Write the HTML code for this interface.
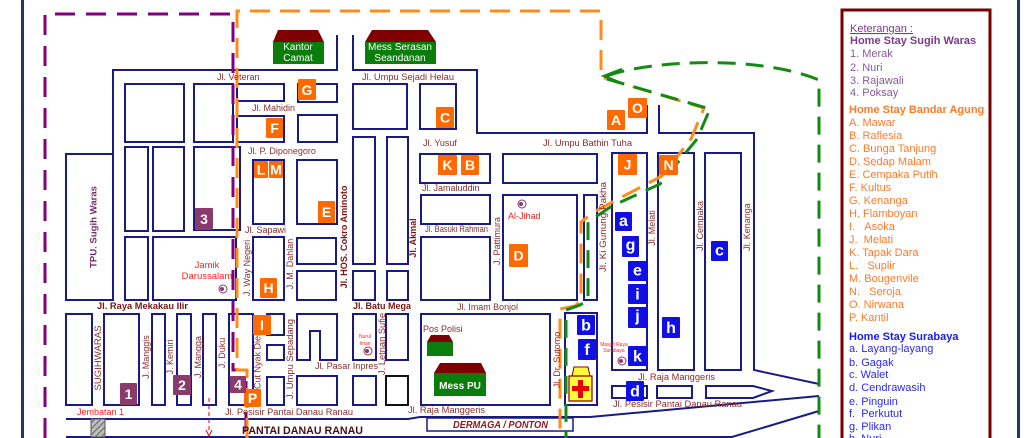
<!DOCTYPE html>
<html><head><meta charset="utf-8"><style>
html,body{margin:0;padding:0;background:#fff;}
svg{display:block;}
text{font-family:"Liberation Sans",Arial,sans-serif;}
.s{fill:none;stroke:#1a1a84;stroke-width:2;}
.l{fill:#8b2d2d;font-size:9px;}
.lv{fill:#8b2d2d;font-size:9px;text-anchor:middle;}
.lb{fill:#7a1414;font-size:9px;font-weight:bold;}
.ob{fill:#ff6a00;}
.pb{fill:#8b3b6b;}
.bb{fill:#1010e6;}
.bx{fill:#fff;font-weight:bold;font-size:14px;text-anchor:middle;}
.bl{fill:#fff;font-weight:bold;font-size:16px;text-anchor:middle;}
.red{fill:#ff2020;}
.lgp{fill:#8a5a9a;font-size:11px;}
.lgo{fill:#ff7a2a;font-size:11px;}
.lgb{fill:#2a2aee;font-size:11px;}
</style></head><body>
<svg width="1030" height="438" viewBox="0 0 1030 438" xmlns="http://www.w3.org/2000/svg">
<rect width="1030" height="438" fill="#fff"/>
<!-- frame lines -->
<rect x="21" y="0" width="3" height="438" fill="#1f3864"/>
<rect x="1017" y="0" width="3" height="438" fill="#1f3864"/>

<!-- blocks -->
<rect class="s" x="125" y="84" width="59" height="58"/>
<rect class="s" x="194" y="84" width="39" height="58"/>
<rect class="s" x="237" y="84" width="47" height="17"/>
<rect class="s" x="237" y="116" width="47" height="26"/>
<rect class="s" x="298" y="84" width="39" height="18"/>
<rect class="s" x="298" y="115" width="39" height="27"/>
<rect class="s" x="353" y="84" width="54" height="45"/>
<rect class="s" x="420" y="84" width="36" height="45"/>
<rect class="s" x="125" y="147" width="23" height="84"/>
<rect class="s" x="153" y="147" width="31" height="84"/>
<rect class="s" x="194" y="147" width="46" height="83"/>
<rect class="s" x="253" y="160" width="31" height="64"/>
<rect class="s" x="297" y="160" width="40" height="64"/>
<rect class="s" x="353" y="137" width="22" height="127"/>
<rect class="s" x="387" y="137" width="21" height="127"/>
<rect class="s" x="420" y="154" width="70" height="29"/>
<rect class="s" x="503" y="154" width="94" height="29"/>
<rect class="s" x="421" y="195" width="69" height="29"/>
<rect class="s" x="421" y="237" width="69" height="63"/>
<rect class="s" x="503" y="195" width="74" height="105"/>
<rect class="s" x="584" y="195" width="13" height="105"/>
<rect class="s" x="612" y="153" width="35" height="217"/>
<rect class="s" x="658" y="153" width="36" height="217"/>
<rect class="s" x="705" y="153" width="36" height="217"/>
<rect class="s" x="125" y="237" width="23" height="63"/>
<rect class="s" x="153" y="237" width="83" height="63"/>
<rect class="s" x="253" y="237" width="31" height="63"/>
<rect class="s" x="297" y="238" width="39" height="26"/>
<rect class="s" x="297" y="271" width="39" height="29"/>
<rect class="s" x="353" y="271" width="22" height="29"/>
<rect class="s" x="387" y="271" width="21" height="29"/>
<rect class="s" x="66" y="314" width="26" height="91"/>
<rect class="s" x="104" y="314" width="35" height="91"/>
<rect class="s" x="152" y="314" width="13" height="91"/>
<rect class="s" x="177" y="314" width="14" height="91"/>
<rect class="s" x="203" y="314" width="13" height="91"/>
<rect class="s" x="229" y="314" width="24" height="91"/>
<rect class="s" x="267" y="314" width="17" height="21"/>
<rect class="s" x="267" y="345" width="17" height="15"/>
<rect class="s" x="267" y="377" width="17" height="28"/>
<path class="s" d="M297,360V314H337V360H320V331H310V360Z"/>
<rect class="s" x="353" y="314" width="23" height="46"/>
<rect class="s" x="386" y="314" width="22" height="46"/>
<rect class="s" x="297" y="376" width="40" height="29"/>
<rect class="s" x="353" y="376" width="23" height="29"/>
<rect x="386" y="376" width="22" height="29" fill="none" stroke="#111" stroke-width="2"/>
<rect class="s" x="421" y="314" width="129" height="91"/>
<rect class="s" x="565" y="313" width="32" height="92"/>
<rect class="s" x="612" y="386" width="35" height="12"/>
<rect class="s" x="657" y="386" width="35" height="12"/>
<path class="s" d="M706,386H753L772,391L753,398H706Z"/>

<!-- outer roads -->
<path class="s" d="M337,35V70H113V300H66V154H113"/>
<path class="s" d="M353,35V70H477V133H647V105M659,105V133H754V370L819,384"/>
<path class="s" d="M66,419H408L420,417H590L819,396"/>
<path class="s" d="M66,437H732L819,411"/>
<rect x="427" y="418" width="146" height="13" fill="none" stroke="#1a1a84" stroke-width="1.5"/>

<!-- bridge -->
<rect x="91" y="419" width="14" height="18" fill="#bdbdbd" stroke="#555" stroke-width="1"/>
<path d="M91,423L95,419M91,429L101,419M91,435L105,421M95,437L105,427M101,437L105,433" stroke="#666" stroke-width="1"/>

<!-- buildings -->
<polygon points="273,42 278,30 318,30 324,42" fill="#7f0000"/>
<rect x="273" y="42" width="51" height="22" fill="#0b7d0b"/>
<text x="298" y="50" fill="#fff" font-size="10" text-anchor="middle">Kantor</text>
<text x="298" y="61" fill="#fff" font-size="10" text-anchor="middle">Camat</text>
<polygon points="365,42 372,30 428,30 436,42" fill="#7f0000"/>
<rect x="365" y="42" width="71" height="22" fill="#0b7d0b"/>
<text x="400" y="50" fill="#fff" font-size="10" text-anchor="middle">Mess Serasan</text>
<text x="400" y="61" fill="#fff" font-size="10" text-anchor="middle">Seandanan</text>
<polygon points="427,342 431,335 449,335 453,342" fill="#7f0000"/>
<rect x="427" y="342" width="26" height="14" fill="#0b7d0b"/>
<polygon points="434,373 440,363 481,363 486,373" fill="#7f0000"/>
<rect x="434" y="373" width="52" height="23" fill="#0b7d0b"/>
<text x="460" y="389" fill="#fff" font-size="10" font-weight="bold" text-anchor="middle">Mess PU</text>

<!-- hospital -->
<polygon points="572,376 574,367 588,367 590,376" fill="#ffff33" stroke="#800000" stroke-width="1"/>
<rect x="569" y="376" width="23" height="25" fill="#ffff33" stroke="#800000" stroke-width="1.2"/>
<rect x="578" y="380" width="5" height="18" fill="#ee0000"/>
<rect x="572" y="386" width="17" height="5" fill="#ee0000"/>

<!-- mosque icons -->
<g fill="none" stroke="#8b3a6b" stroke-width="1">
<circle cx="223" cy="289" r="4"/><circle cx="522" cy="204" r="4"/><circle cx="368" cy="351" r="4"/><circle cx="622" cy="361" r="4"/>
</g>
<g fill="#8b3a6b">
<circle cx="222" cy="289" r="2"/><circle cx="521" cy="204" r="2"/><circle cx="367" cy="351" r="2"/><circle cx="621" cy="361" r="2"/>
</g>

<!-- dashed boundaries -->
<path d="M45,438V14H233V370H246V438" fill="none" stroke="#800080" stroke-width="3" stroke-dasharray="20,11"/>
<path d="M247,438V370H237V11H601V77L704,108L691,139L662,176L620,198L594,212L581,222V300L575,306L560,309V438" fill="none" stroke="#ff8c1a" stroke-width="3" stroke-dasharray="20,10"/>
<path d="M607,79L710,109L697,139L660,184L612,206L588,222V300L580,305L566,310V438" fill="none" stroke="#138a13" stroke-width="3" stroke-dasharray="18,10"/>
<path d="M607,76C650,60 760,55 819,80V438" fill="none" stroke="#138a13" stroke-width="3" stroke-dasharray="18,10"/>
<path d="M622,69L604,76L621,83" fill="none" stroke="#138a13" stroke-width="2.5"/>

<!-- red arrow -->
<line x1="209" y1="398" x2="209" y2="433" stroke="#e00" stroke-width="1" stroke-dasharray="4,3"/>
<path d="M206,430L209,436L212,430" fill="none" stroke="#e00" stroke-width="1"/>

<!-- horizontal labels -->
<text class="l" x="217" y="80">Jl. Veteran</text>
<text class="l" x="252" y="111" font-size="8">Jl. Mahidin</text>
<text class="l" x="248" y="154" font-size="8">Jl. P. Diponegoro</text>
<text class="l" x="362" y="80" textLength="92" lengthAdjust="spacingAndGlyphs">Jl. Umpu Sejadi Helau</text>
<text class="l" x="423" y="146">Jl. Yusuf</text>
<text class="l" x="543" y="146" textLength="89" lengthAdjust="spacingAndGlyphs">Jl. Umpu Bathin Tuha</text>
<text class="l" x="422" y="191">Jl. Jamaluddin</text>
<text class="l" x="425" y="232" font-size="8" textLength="63" lengthAdjust="spacingAndGlyphs">Jl. Basuki Rahman</text>
<text class="l" x="245" y="233">Jl. Sapawi</text>
<text class="lb" x="97" y="309" textLength="91" lengthAdjust="spacingAndGlyphs">Jl. Raya Mekakau Ilir</text>
<text class="lb" x="353" y="309" textLength="58" lengthAdjust="spacingAndGlyphs">Jl. Batu Mega</text>
<text class="l" x="457" y="310" textLength="61" lengthAdjust="spacingAndGlyphs">Jl. Imam Bonjol</text>
<text class="l" x="315" y="369" textLength="63" lengthAdjust="spacingAndGlyphs">Jl. Pasar Inpres</text>
<text class="l" x="225" y="415" textLength="128" lengthAdjust="spacingAndGlyphs">Jl. Pesisir Pantai Danau Ranau</text>
<text class="l" x="408" y="413" textLength="77" lengthAdjust="spacingAndGlyphs">Jl. Raja Manggeris</text>
<text class="l" x="638" y="380" textLength="77" lengthAdjust="spacingAndGlyphs">Jl. Raja Manggeris</text>
<text class="l" x="613" y="407" textLength="129" lengthAdjust="spacingAndGlyphs">Jl. Pesisir Pantai Danau Ranau</text>
<text x="77" y="415" font-size="9" fill="#ff2020">Jembatan 1</text>
<text x="242" y="434" font-size="11" font-weight="bold" fill="#4a1010" textLength="121" lengthAdjust="spacingAndGlyphs">PANTAI DANAU RANAU</text>
<text x="453" y="428" font-size="10" font-weight="bold" font-style="italic" fill="#8b1a1a" textLength="95" lengthAdjust="spacingAndGlyphs">DERMAGA / PONTON</text>
<text class="l" x="423" y="332">Pos Polisi</text>
<text class="red" x="508" y="219" font-size="9">Al-Jihad</text>
<text class="red" x="207" y="268" font-size="9.5" text-anchor="middle">Jamik</text>
<text class="red" x="207" y="279" font-size="9.5" text-anchor="middle">Darussalam</text>
<text class="red" x="365" y="338" font-size="5" text-anchor="middle">Nurul</text>
<text class="red" x="365" y="345" font-size="5" text-anchor="middle">Iman</text>
<text class="red" x="614" y="346" font-size="5" text-anchor="middle">Masjid Raya</text>
<text class="red" x="614" y="352" font-size="5" text-anchor="middle">Surabaya</text>

<!-- vertical labels -->
<text x="0" y="0" font-size="9.5" font-weight="bold" fill="#7b2d6b" text-anchor="middle" transform="translate(96.5,227) rotate(-90)" textLength="82" lengthAdjust="spacingAndGlyphs">TPU. Sugih Waras</text>
<text class="lv" font-size="8" transform="translate(101,358) rotate(-90)" textLength="65" lengthAdjust="spacingAndGlyphs">SUGIHWARAS</text>
<text class="lv" transform="translate(149,357) rotate(-90)">J. Manggis</text>
<text class="lv" transform="translate(173,357) rotate(-90)">J. Kemiri</text>
<text class="lv" transform="translate(201,357) rotate(-90)">J. Mangga</text>
<text class="lv" transform="translate(225,353) rotate(-90)">J. Duku</text>
<text class="lv" transform="translate(250,268) rotate(-90)">J. Way Negeri</text>
<text class="lv" font-size="7" transform="translate(260.5,360) rotate(-90)">Cut Nyak Dien</text>
<text class="lv" transform="translate(293,264) rotate(-90)">J. M. Dahlan</text>
<text class="lb" text-anchor="middle" transform="translate(347,237) rotate(-90)" textLength="103" lengthAdjust="spacingAndGlyphs">Jl. HOS. Cokro Aminoto</text>
<text class="lb" text-anchor="middle" transform="translate(416,238) rotate(-90)">Jl. Akmal</text>
<text class="lv" transform="translate(293,359) rotate(-90)" textLength="80" lengthAdjust="spacingAndGlyphs">J. Umpu Sepadang</text>
<text class="lv" transform="translate(385,344) rotate(-90)" textLength="62" lengthAdjust="spacingAndGlyphs">J. Letnan Sufie</text>
<text class="lv" transform="translate(500,241) rotate(-90)">J. Pattimura</text>
<text class="lv" transform="translate(606,227) rotate(-90)" textLength="90" lengthAdjust="spacingAndGlyphs">Jl. Ki Gunung Pakha</text>
<text class="lv" transform="translate(560,360) rotate(-90)">Jl. Dr. Sutomo</text>
<text class="lv" transform="translate(655,228) rotate(-90)">Jl. Melati</text>
<text class="lv" transform="translate(703,226) rotate(-90)">Jl. Cempaka</text>
<text class="lv" transform="translate(750,227) rotate(-90)">Jl. Kenanga</text>

<!-- orange boxes -->
<rect class="ob" x="298" y="79" width="18" height="21" rx="1"/><text class="bx" x="307" y="95">G</text>
<rect class="ob" x="266" y="118" width="17" height="20" rx="1"/><text class="bx" x="274.5" y="133">F</text>
<rect class="ob" x="254" y="161" width="14" height="17" rx="1"/><text class="bx" x="261" y="174.5" font-size="13">L</text>
<rect class="ob" x="269" y="161" width="14" height="17" rx="1"/><text class="bx" x="276" y="174.5" font-size="13">M</text>
<rect class="ob" x="318" y="201" width="17" height="22" rx="1"/><text class="bx" x="326.5" y="217">E</text>
<rect class="ob" x="260" y="278" width="17" height="20" rx="1"/><text class="bx" x="268.5" y="293">H</text>
<rect class="ob" x="253" y="315" width="18" height="20" rx="1"/><text class="bx" x="262" y="330">I</text>
<rect class="ob" x="244" y="389" width="17" height="18" rx="1"/><text class="bx" x="252.5" y="403">P</text>
<rect class="ob" x="436" y="107" width="18" height="21" rx="1"/><text class="bx" x="445" y="122.5">C</text>
<rect class="ob" x="438" y="155" width="19" height="20" rx="1"/><text class="bx" x="447.5" y="170">K</text>
<rect class="ob" x="461" y="155" width="18" height="20" rx="1"/><text class="bx" x="470" y="170">B</text>
<rect class="ob" x="509" y="244" width="19" height="23" rx="1"/><text class="bx" x="518.5" y="260.5">D</text>
<rect class="ob" x="607" y="110" width="18" height="20" rx="1"/><text class="bx" x="616" y="125">A</text>
<rect class="ob" x="628" y="98" width="19" height="20" rx="1"/><text class="bx" x="637.5" y="113">O</text>
<rect class="ob" x="618" y="154" width="19" height="21" rx="1"/><text class="bx" x="627.5" y="169.5">J</text>
<rect class="ob" x="659" y="155" width="19" height="20" rx="1"/><text class="bx" x="668.5" y="170">N</text>

<!-- purple boxes -->
<rect class="pb" x="195" y="208" width="18" height="22" rx="1"/><text class="bx" x="204" y="224">3</text>
<rect class="pb" x="120" y="383" width="17" height="22" rx="1"/><text class="bx" x="128.5" y="399">1</text>
<rect class="pb" x="173" y="375" width="18" height="20" rx="1"/><text class="bx" x="182" y="390">2</text>
<rect class="pb" x="230" y="376" width="16" height="17" rx="1"/><text class="bx" x="238" y="389.5">4</text>

<!-- blue boxes -->
<rect class="bb" x="615" y="212" width="17" height="19" rx="1"/><text class="bl" x="623.5" y="226">a</text>
<rect class="bb" x="622" y="236" width="17" height="21" rx="1"/><text class="bl" x="630.5" y="250">g</text>
<rect class="bb" x="628" y="261" width="19" height="20" rx="1"/><text class="bl" x="637.5" y="275.5">e</text>
<rect class="bb" x="628" y="284" width="19" height="20" rx="1"/><text class="bl" x="637.5" y="299.5">i</text>
<rect class="bb" x="628" y="307" width="19" height="21" rx="1"/><text class="bl" x="637.5" y="321">j</text>
<rect class="bb" x="628" y="346" width="19" height="20" rx="1"/><text class="bl" x="637.5" y="361.5">k</text>
<rect class="bb" x="577" y="315" width="18" height="20" rx="1"/><text class="bl" x="586" y="330.5">b</text>
<rect class="bb" x="578" y="339" width="18" height="21" rx="1"/><text class="bl" x="587" y="355">f</text>
<rect class="bb" x="662" y="317" width="18" height="21" rx="1"/><text class="bl" x="671" y="333">h</text>
<rect class="bb" x="711" y="241" width="17" height="20" rx="1"/><text class="bl" x="719.5" y="255.5">c</text>
<rect class="bb" x="626" y="381" width="18" height="20" rx="1"/><text class="bl" x="635" y="396.5">d</text>

<!-- legend -->
<rect x="842" y="10" width="148" height="440" fill="#fff" stroke="#7a0000" stroke-width="3"/>
<text x="850" y="32" font-size="11" fill="#7b3a8a" text-decoration="underline">Keterangan :</text>
<text x="850" y="44" font-size="11" font-weight="bold" fill="#7b3a8a">Home Stay Sugih Waras</text>
<text class="lgp" x="850" y="57">1. Merak</text>
<text class="lgp" x="850" y="71">2. Nuri</text>
<text class="lgp" x="850" y="84">3. Rajawali</text>
<text class="lgp" x="850" y="96">4. Poksay</text>
<text x="849" y="113" font-size="11" font-weight="bold" fill="#ff7a2a">Home Stay Bandar Agung</text>
<text class="lgo" x="849" y="126">A. Mawar</text>
<text class="lgo" x="849" y="139">B. Raflesia</text>
<text class="lgo" x="849" y="152">C. Bunga Tanjung</text>
<text class="lgo" x="849" y="165">D. Sedap Malam</text>
<text class="lgo" x="849" y="178">E. Cempaka Putih</text>
<text class="lgo" x="849" y="191">F. Kultus</text>
<text class="lgo" x="849" y="204">G. Kenanga</text>
<text class="lgo" x="849" y="217">H. Flamboyan</text>
<text class="lgo" x="849" y="230">I.&#160;&#160;&#160;Asoka</text>
<text class="lgo" x="849" y="243">J.&#160;&#160;Melati</text>
<text class="lgo" x="849" y="256">K. Tapak Dara</text>
<text class="lgo" x="849" y="269">L.&#160;&#160;&#160;Suplir</text>
<text class="lgo" x="849" y="282">M. Bougenvile</text>
<text class="lgo" x="849" y="295">N.&#160;&#160;&#160;Seroja</text>
<text class="lgo" x="849" y="308">O. Nirwana</text>
<text class="lgo" x="849" y="321">P. Kantil</text>
<text x="849" y="340" font-size="11" font-weight="bold" fill="#1a1aee">Home Stay Surabaya</text>
<text class="lgb" x="849" y="352">a. Layang-layang</text>
<text class="lgb" x="849" y="366">b. Gagak</text>
<text class="lgb" x="849" y="378">c. Walet</text>
<text class="lgb" x="849" y="391">d. Cendrawasih</text>
<text class="lgb" x="849" y="405">e. Pinguin</text>
<text class="lgb" x="849" y="417">f.&#160;&#160;Perkutut</text>
<text class="lgb" x="849" y="430">g. Plikan</text>
<text class="lgb" x="849" y="442">h. Nuri</text>
</svg>
</body></html>
